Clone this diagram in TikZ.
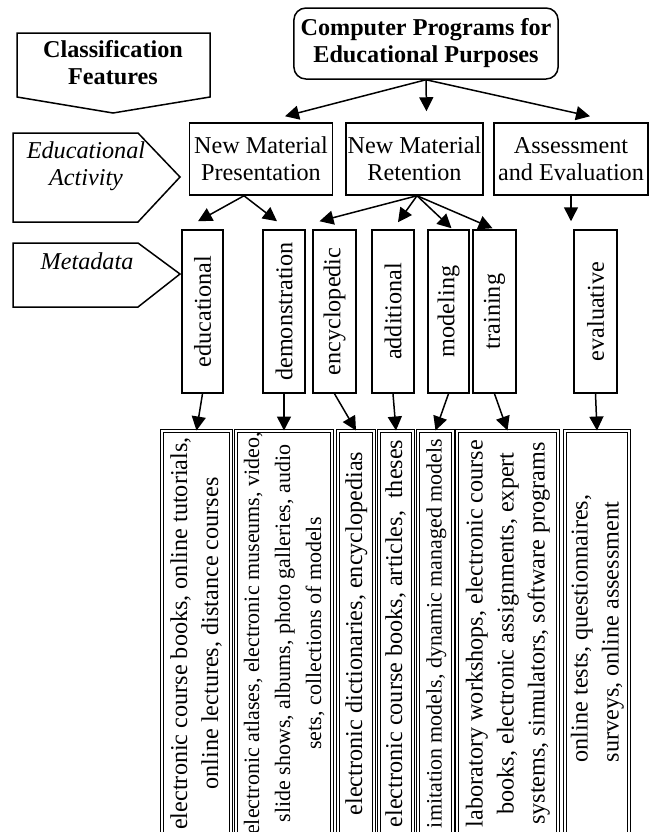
\documentclass[tikz,border=0pt]{standalone}
\usepackage{fontspec}
\setmainfont{Liberation Serif}
\usetikzlibrary{positioning}
\usetikzlibrary{calc}
\usetikzlibrary{arrows.meta}
\newcommand{\mainsize}{\fontsize{12.1pt}{13.5pt}\selectfont}
\newcommand{\uptext}[1]{\rotatebox{90}{\begin{tabular}{@{}c@{}}#1\end{tabular}}}
\tikzset{
    program/.style = {rectangle, rounded corners=6pt, draw, align=center,
        font=\mainsize\bfseries, minimum width=132pt, minimum height=35.5pt},
    activity/.style = {rectangle, draw, align=center, inner sep=0pt, minimum height=36pt},
    meta/.style = {rectangle, draw, inner sep=0pt, minimum height=81.5pt},
    resource/.style = {rectangle, draw, double, line width=0.5pt, double distance=0.75pt,
        inner sep=0pt, minimum height=202.5pt, font=\fontsize{12.1pt}{15.5pt}\selectfont},
    feature/.style = {-, draw, line join=miter}
}
\begin{document}
\begin{tikzpicture}[-{Triangle[length=7pt, width=7pt]}, x=0.5pt, y=-0.5pt,
    line width=0.75pt, font=\mainsize]
    \useasboundingbox (0,0) rectangle (650,832);
    \clip (0,0) rectangle (650,832);
    % classification features
    \draw[feature] (17,33) -- (210,33) -- (210,97) -- (113,113) -- (17,97) -- cycle;
    \node[align=center, font=\mainsize\bfseries] (class) at (113,63) {Classification\\Features};
    \draw[feature] (13,133) -- (138,133) -- (180,177) -- (138,222) -- (13,222) -- cycle;
    \node[align=center, font=\mainsize\itshape] (edact) at (86,166) {Educational\\Activity};
    \draw[feature] (13,243) -- (138,243) -- (180,274) -- (138,307) -- (13,307) -- cycle;
    \node[font=\mainsize\itshape] (metadata) at (87,261) {Metadata};
    % top
    \node[program] (prog) at (426,43.5) {Computer Programs for\\Educational Purposes};
    % educational activity
    \node[activity, minimum width=71.5pt] (pres) at (261,159) {New Material\\Presentation};
    \node[activity, minimum width=68.5pt] (ret) at (414.5,159) {New Material\\Retention};
    \node[activity, minimum width=77pt] (assess) at (571,159) {Assessment\\and Evaluation};
    % metadata
    \node[meta, minimum width=20.5pt] (educ) at (202.5,311.5) {\rotatebox{90}{educational}};
    \node[meta, minimum width=21pt] (demo) at (284,311.5) {\rotatebox{90}{demonstration}};
    \node[meta, minimum width=21.5pt] (ency) at (334.5,311.5) {\rotatebox{90}{encyclopedic}};
    \node[meta, minimum width=21pt] (addi) at (393,311.5) {\rotatebox{90}{additional}};
    \node[meta, minimum width=20.5pt] (mode) at (448.5,311.5) {\rotatebox{90}{modeling}};
    \node[meta, minimum width=21.5pt] (trai) at (494.5,311.5) {\rotatebox{90}{training}};
    \node[meta, minimum width=21.5pt] (evalu) at (595.5,311.5) {\rotatebox{90}{evaluative}};
    % resources
    \node[resource, minimum width=34.5pt] (res1) at (196.5,633.5)
        {\uptext{electronic course books, online tutorials,\\online lectures, distance courses}};
    \node[resource, minimum width=48pt, font=\fontsize{11pt}{15.5pt}\selectfont] (res2) at (284,633.5)
        {\uptext{electronic atlases, electronic museums, video,\\slide shows, albums, photo galleries, audio\\sets, collections of models}};
    \node[resource, minimum width=18pt] (res3) at (356,633.5)
        {\uptext{electronic dictionaries, encyclopedias}};
    \node[resource, minimum width=17pt] (res4) at (396,633.5)
        {\uptext{electronic course books, articles,\ \ theses}};
    \node[resource, minimum width=17.5pt, font=\fontsize{11pt}{15.5pt}\selectfont] (res5) at (435.5,633.5)
        {\uptext{imitation models, dynamic managed models}};
    \node[resource, minimum width=50.5pt] (res6) at (507.5,633.5)
        {\uptext{laboratory workshops, electronic course\\books, electronic assignments, expert\\systems, simulators, software programs}};
    \node[resource, minimum width=32pt] (res7) at (597,633.5)
        {\rotatebox{90}{\begin{tabular}{@{\hspace{5pt}}l@{}}online tests, questionnaires,\\surveys, online assessment\end{tabular}}};
    % arrows
    \draw (prog.south) -- ($(pres.north)+(24,-6)$);
    \draw (prog.south) -- ($(ret.north)+(12,-11)$);
    \draw (prog.south) -- ($(assess.north)+(19,-6)$);
    \draw ($(pres.south)+(-17,0)$) -- ($(educ.north)+(-4.5,-8)$);
    \draw ($(pres.south)+(-17,0)$) -- ($(demo.north)+(-7,-8)$);
    \draw ($(ret.south)+(2.5,0)$) -- ($(ency.north)+(-15,-8)$);
    \draw ($(ret.south)+(2.5,0)$) -- ($(addi.north)+(5,-7)$);
    \draw ($(ret.south)+(2.5,0)$) -- ($(mode.north)+(3,-1)$);
    \draw ($(ret.south)+(2.5,0)$) -- ($(trai.north)+(-2,-1)$);
    \draw (assess.south) -- ($(evalu.north)+(-24.5,-8)$);
    \draw (educ.south) -- (res1.north);
    \draw (demo.south) -- (res2.north);
    \draw (ency.south) -- (res3.north);
    \draw (addi.south) -- (res4.north);
    \draw (mode.south) -- (res5.north);
    \draw (trai.south) -- (res6.north);
    \draw (evalu.south) -- (res7.north);
\end{tikzpicture}
\end{document}
